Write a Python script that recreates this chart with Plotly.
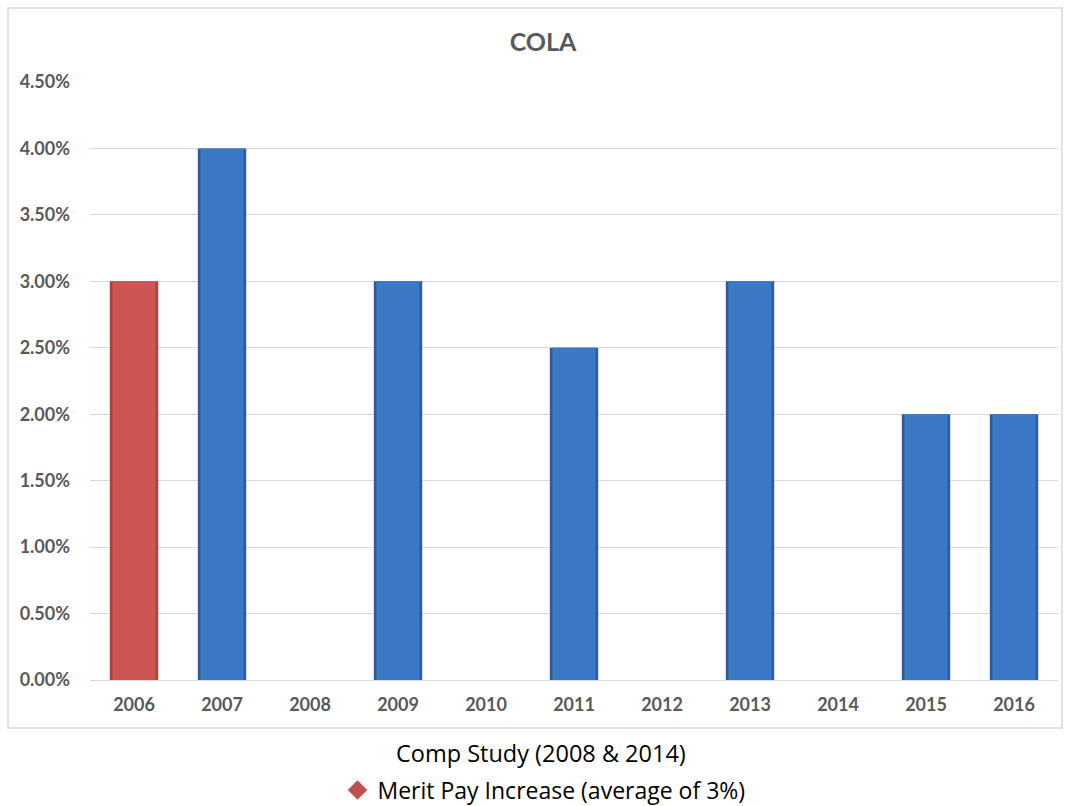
import plotly.graph_objects as go

years = ["2006", "2007", "2008", "2009", "2010", "2011", "2012", "2013", "2014", "2015", "2016"]
merit_years = ["2006"]
merit_values = [0.03]
cola_years = ["2007", "2009", "2011", "2013", "2015", "2016"]
cola_values = [0.04, 0.03, 0.025, 0.03, 0.02, 0.02]
y_ticks = [0, 0.005, 0.01, 0.015, 0.02, 0.025, 0.03, 0.035, 0.04, 0.045]

FONT = "Lato, Open Sans, sans-serif"
GREY = "#595959"

fig = go.Figure()

# bevelled bars: darker outer bar with a lighter, narrower face on top
fig.add_trace(go.Bar(x=merit_years, y=merit_values, width=0.55,
                     marker=dict(color="#a9413f", line=dict(width=0)),
                     showlegend=False, hoverinfo="skip"))
fig.add_trace(go.Bar(x=merit_years, y=merit_values, width=0.49,
                     marker=dict(color="#cd5553", line=dict(width=0)),
                     showlegend=False))
fig.add_trace(go.Bar(x=cola_years, y=cola_values, width=0.55,
                     marker=dict(color="#2b5d9e", line=dict(width=0)),
                     showlegend=False, hoverinfo="skip"))
fig.add_trace(go.Bar(x=cola_years, y=cola_values, width=0.49,
                     marker=dict(color="#3b79c6", line=dict(width=0)),
                     showlegend=False))

# legend entry for the merit series
fig.add_trace(go.Scatter(x=[None], y=[None], mode="markers",
                         name="Merit Pay Increase (average of 3%)",
                         marker=dict(symbol="diamond", size=15, color="#c0504d"),
                         showlegend=True))

fig.update_layout(
    width=1070, height=806,
    margin=dict(l=90, r=12, t=82, b=126, autoexpand=False),
    paper_bgcolor="white", plot_bgcolor="white",
    barmode="overlay",
    title=dict(text="<b>COLA</b>", x=543 / 1070, xanchor="center", y=1 - 42 / 806, yanchor="middle",
               font=dict(family=FONT, size=25, color=GREY)),
    font=dict(family=FONT, color=GREY),
    xaxis=dict(categoryorder="array", categoryarray=years, type="category",
               tickfont=dict(family=FONT, size=18, color=GREY, weight="bold"),
               showline=False, showgrid=False, ticks="", ticklabelstandoff=12,
               automargin=False),
    yaxis=dict(range=[0, 0.045], tickvals=y_ticks, tickformat=".2%",
               tickfont=dict(family=FONT, size=18, color=GREY, weight="bold"),
               showgrid=True, gridcolor="#d9d9d9", gridwidth=1,
               zeroline=True, zerolinecolor="#d9d9d9", zerolinewidth=1,
               showline=False, ticks="", ticklabelstandoff=19, automargin=False),
    legend=dict(orientation="h", x=0.469, xanchor="center",
                yref="container", y=1 - 790 / 806, yanchor="middle",
                font=dict(family="Open Sans, sans-serif", size=23, color="black"),
                bgcolor="rgba(0,0,0,0)", itemwidth=30),
    shapes=[dict(type="rect", xref="paper", yref="paper",
                 x0=-0.0847, x1=1.0041, y0=-0.0803, y1=1.1237,
                 line=dict(color="#d9d9d9", width=1.5), fillcolor="rgba(0,0,0,0)", layer="below")],
    annotations=[dict(text="Comp Study (2008 & 2014)", xref="paper", yref="paper",
                      x=0.466, y=-0.1225, xanchor="center", yanchor="middle", showarrow=False,
                      font=dict(family="Open Sans, sans-serif", size=23.5, color="black"))],
)

fig.write_html("out.html")
